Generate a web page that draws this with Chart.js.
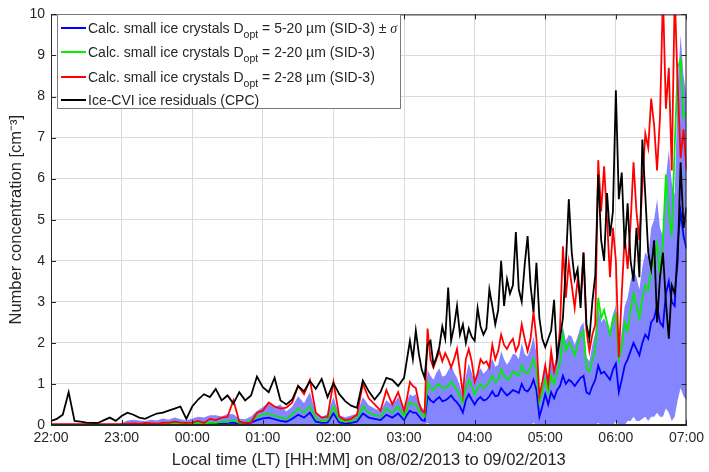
<!DOCTYPE html>
<html>
<head>
<meta charset="utf-8">
<script src="https://cdn.jsdelivr.net/npm/chart.js@4.4.1/dist/chart.umd.min.js"></script>
<style>
  html, body { margin: 0; padding: 0; background: #fff; }
  #wrap { position: relative; width: 709px; height: 472px; }
  #legend { position: absolute; left: 57px; top: 14px; width: 342px; height: 93px; background: #fff;
            border: 1px solid #7a7a7a; font-family: 'Liberation Sans', Arial, sans-serif; font-size: 14px; color: #262626; }
  .row { position: absolute; left: 0; height: 20px; line-height: 20px; white-space: nowrap; }
  .swatch { position: absolute; left: 3px; top: 9px; width: 25px; height: 2px; }
  .txt { position: absolute; left: 30px; top: 0; }
  sub { font-size: 10.5px; vertical-align: -5px; line-height: 0; }
  .sig { font-family: 'Liberation Serif', serif; font-style: italic; }
</style>
</head>
<body>
<div id="wrap">
  <canvas id="chart" width="709" height="472"></canvas>
  <div id="legend">
    <div class="row" style="top:3px"><i class="swatch" style="background:#0000ff"></i><span class="txt">Calc. small ice crystals D<sub>opt</sub> = 5-20 µm (SID-3) ± <span class="sig">σ</span></span></div>
    <div class="row" style="top:27px"><i class="swatch" style="background:#00ee00"></i><span class="txt">Calc. small ice crystals D<sub>opt</sub> = 2-20 µm (SID-3)</span></div>
    <div class="row" style="top:52px"><i class="swatch" style="background:#ff0000"></i><span class="txt">Calc. small ice crystals D<sub>opt</sub> = 2-28 µm (SID-3)</span></div>
    <div class="row" style="top:75px"><i class="swatch" style="background:#000000"></i><span class="txt">Ice-CVI ice residuals (CPC)</span></div>
  </div>
</div>
<script>
// minutes after 22:00: every 5 min up to 02:55, then every 2.5 min up to 07:00
const times = [];
for (let t = 0; t < 300; t += 5) times.push(t);
for (let t = 300; t <= 540; t += 2.5) times.push(t);

// Ice-CVI ice residuals (CPC), cm-3
const cpc = [
  0.10, 0.15, 0.25, 0.80, 0.10, 0.08, 0.06, 0.05, 0.05, 0.12, 0.18, 0.10,
  0.22, 0.30, 0.25, 0.18, 0.15, 0.22, 0.28, 0.30, 0.35, 0.40, 0.45, 0.15,
  0.45, 0.62, 0.75, 0.68, 0.88, 0.60, 0.72, 0.52, 0.80, 0.60, 0.72, 1.18,
  0.92, 0.80, 1.15, 0.60, 0.50, 0.62, 0.95, 0.82, 1.07, 0.88, 1.12, 0.68,
  1.02, 0.75, 0.58, 0.47, 0.42, 1.08, 0.82, 0.62, 0.80, 1.15, 1.10, 0.95,
  // 03:00 on
  1.15, 1.60, 2.05, 1.60, 2.30, 1.75, 1.35, 1.15, 1.95, 2.05, 1.45, 1.65,
  1.90, 2.40, 2.10, 3.35, 2.05, 2.40, 2.90, 2.20, 2.45, 2.00, 2.35, 2.15,
  2.05, 2.85, 2.40, 2.20, 2.35, 3.30, 2.90, 2.45, 2.80, 4.00, 2.90, 3.55,
  3.20, 3.40, 4.70, 3.30, 3.00, 3.90, 4.60, 3.40, 2.75, 3.95, 2.60, 2.10,
  1.90, 2.10, 2.30, 3.05, 1.65, 2.10, 2.60, 3.90, 5.50, 4.20, 3.55, 3.80,
  2.85, 4.20, 2.45, 2.10, 3.00, 3.65, 6.10, 4.50, 4.00, 5.65, 4.60, 5.20,
  8.15, 5.50, 6.15, 4.30, 5.40, 4.00, 3.50, 4.80, 3.60, 6.95, 5.60, 4.20,
  3.80, 4.50, 2.50, 3.60, 4.20, 3.00, 2.10, 3.40, 3.20, 4.00, 6.40, 4.80,
  5.30
];

// SID-3, Dopt = 2-28 um
const sid228 = [
  0.02, 0.02, 0.02, 0.02, 0.02, 0.02, 0.02, 0.02, 0.02, 0.02, 0.02, 0.02,
  0.02, 0.03, 0.04, 0.03, 0.05, 0.04, 0.03, 0.06, 0.05, 0.08, 0.06, 0.05,
  0.06, 0.10, 0.05, 0.15, 0.12, 0.18, 0.20, 0.60, 0.08, 0.05, 0.06, 0.30,
  0.35, 0.55, 0.45, 0.40, 0.42, 0.55, 0.95, 0.75, 1.10, 0.30, 0.18, 0.20,
  1.05, 0.20, 0.12, 0.15, 0.25, 1.00, 0.65, 0.50, 0.35, 0.85, 0.50, 0.80,
  // 03:00 on
  0.35, 0.65, 1.05, 0.95, 0.90, 0.55, 0.35, 0.30, 2.35, 1.60, 1.40, 1.60,
  1.80, 1.55, 1.75, 1.60, 1.40, 1.60, 1.85, 1.30, 0.75, 1.60, 1.85, 1.55,
  1.05, 1.25, 1.60, 1.50, 1.55, 1.40, 1.95, 1.60, 1.80, 2.20, 1.95, 1.85,
  2.00, 2.10, 1.80, 1.95, 2.45, 2.10, 1.80, 2.10, 2.75, 2.10, 0.70, 1.05,
  1.45, 1.00, 1.80, 1.30, 1.60, 2.35, 4.35, 3.10, 3.95, 3.40, 2.85, 3.55,
  3.05, 4.20, 2.30, 1.80, 2.20, 2.45, 6.45, 5.20, 6.30, 5.00, 3.60, 4.80,
  4.00, 1.65, 3.20, 4.60, 3.80, 4.90, 6.40, 5.20, 4.50, 5.80, 7.10, 6.75,
  7.95, 7.30, 6.20, 7.50, 10.5, 7.70, 8.70, 6.20, 10.5, 8.30, 6.50, 7.20,
  6.20
];

// SID-3, Dopt = 2-20 um
const sid220 = [
  0.01, 0.01, 0.01, 0.01, 0.01, 0.01, 0.01, 0.01, 0.01, 0.01, 0.01, 0.01,
  0.01, 0.01, 0.02, 0.01, 0.02, 0.02, 0.01, 0.03, 0.02, 0.04, 0.03, 0.02,
  0.03, 0.04, 0.03, 0.06, 0.05, 0.08, 0.07, 0.12, 0.05, 0.06, 0.10, 0.20,
  0.25, 0.28, 0.22, 0.18, 0.15, 0.25, 0.40, 0.30, 0.45, 0.15, 0.10, 0.12,
  0.45, 0.12, 0.08, 0.10, 0.15, 0.45, 0.30, 0.25, 0.20, 0.40, 0.30, 0.45,
  // 03:00 on
  0.20, 0.40, 0.55, 0.50, 0.50, 0.35, 0.25, 0.20, 1.05, 0.90, 0.85, 0.95,
  1.00, 0.90, 0.90, 0.95, 1.05, 0.95, 0.85, 0.70, 0.55, 0.90, 1.10, 0.95,
  0.75, 0.90, 1.00, 0.90, 0.95, 1.05, 1.20, 1.05, 1.10, 1.35, 1.20, 1.10,
  1.15, 1.30, 1.25, 1.20, 1.45, 1.30, 1.25, 1.40, 1.60, 1.35, 0.55, 0.80,
  1.10, 0.80, 1.20, 1.00, 1.30, 1.50, 2.20, 1.80, 2.00, 1.90, 1.70, 1.95,
  2.20, 2.30, 1.40, 1.30, 1.60, 1.80, 3.10, 2.60, 2.80, 2.50, 2.20, 2.60,
  2.70, 1.60, 1.90, 2.50, 2.30, 2.80, 3.20, 2.90, 2.60, 3.10, 3.40, 3.30,
  3.80, 4.00, 4.40, 3.60, 4.50, 6.10, 5.20, 4.60, 6.80, 8.70, 8.90, 7.50,
  7.60
];

// SID-3, Dopt = 5-20 um, and its standard deviation
const sid520 = [
  0.00, 0.00, 0.00, 0.00, 0.00, 0.00, 0.00, 0.00, 0.00, 0.00, 0.00, 0.00,
  0.00, 0.01, 0.01, 0.01, 0.01, 0.01, 0.01, 0.02, 0.01, 0.02, 0.02, 0.01,
  0.02, 0.02, 0.03, 0.02, 0.04, 0.03, 0.05, 0.06, 0.03, 0.04, 0.06, 0.12,
  0.16, 0.18, 0.14, 0.10, 0.08, 0.15, 0.25, 0.18, 0.30, 0.08, 0.05, 0.06,
  0.28, 0.06, 0.04, 0.05, 0.08, 0.28, 0.18, 0.15, 0.12, 0.25, 0.18, 0.28,
  // 03:00 on
  0.12, 0.25, 0.35, 0.30, 0.30, 0.22, 0.12, 0.10, 0.70, 0.60, 0.55, 0.62,
  0.68, 0.58, 0.60, 0.65, 0.72, 0.62, 0.55, 0.45, 0.30, 0.60, 0.75, 0.62,
  0.50, 0.62, 0.68, 0.60, 0.62, 0.70, 0.82, 0.70, 0.72, 0.90, 0.80, 0.72,
  0.78, 0.85, 0.82, 0.78, 1.00, 0.85, 0.82, 0.92, 1.10, 0.85, 0.20, 0.45,
  0.75, 0.50, 0.80, 0.65, 0.85, 0.95, 1.20, 1.00, 1.10, 1.05, 0.95, 1.05,
  1.15, 1.20, 0.80, 0.75, 0.95, 1.10, 1.45, 1.25, 1.30, 1.20, 1.10, 1.35,
  1.50, 0.80, 1.10, 1.45, 1.60, 1.80, 2.00, 1.85, 1.70, 2.00, 2.20, 2.10,
  2.50, 2.60, 2.90, 2.50, 2.40, 3.20, 3.50, 3.00, 2.90, 4.40, 5.20, 4.60,
  4.30
];
const sid520sd = [
  0.00, 0.00, 0.00, 0.00, 0.00, 0.00, 0.00, 0.00, 0.00, 0.00, 0.00, 0.00,
  0.05, 0.10, 0.12, 0.10, 0.08, 0.12, 0.10, 0.14, 0.12, 0.16, 0.12, 0.10,
  0.14, 0.18, 0.15, 0.22, 0.20, 0.18, 0.22, 0.20, 0.12, 0.10, 0.15, 0.22,
  0.28, 0.35, 0.30, 0.40, 0.25, 0.30, 0.45, 0.35, 0.50, 0.20, 0.15, 0.20,
  0.40, 0.18, 0.15, 0.18, 0.20, 0.40, 0.30, 0.25, 0.22, 0.35, 0.30, 0.40,
  // 03:00 on
  0.25, 0.35, 0.40, 0.40, 0.45, 0.35, 0.30, 0.28, 0.65, 0.60, 0.55, 0.65,
  0.70, 0.60, 0.60, 0.68, 0.75, 0.65, 0.60, 0.50, 0.40, 0.60, 0.75, 0.65,
  0.55, 0.65, 0.70, 0.65, 0.70, 0.75, 0.80, 0.72, 0.75, 0.90, 0.80, 0.75,
  0.80, 0.88, 0.90, 0.82, 1.00, 0.88, 0.85, 0.95, 1.05, 0.90, 0.40, 0.55,
  0.75, 0.60, 0.85, 0.75, 0.95, 1.05, 1.20, 1.05, 1.10, 1.10, 1.00, 1.10,
  1.25, 1.30, 0.85, 0.80, 1.00, 1.15, 1.40, 1.25, 1.30, 1.25, 1.15, 1.35,
  1.40, 0.90, 1.20, 1.45, 1.50, 1.70, 1.80, 1.75, 1.60, 1.85, 2.00, 2.00,
  2.30, 2.40, 2.60, 2.30, 2.20, 2.80, 3.20, 2.90, 2.70, 3.80, 4.30, 3.90,
  3.70
];

const xTicks = ['22:00', '23:00', '00:00', '01:00', '02:00', '03:00', '04:00', '05:00', '06:00', '07:00'];

const pts = arr => arr.map((v, i) => ({x: times[i], y: v}));
const upper = sid520.map((v, i) => v + sid520sd[i]);
const lower = sid520.map((v, i) => Math.max(0, v - sid520sd[i]));

const fontFam = "'Liberation Sans', Arial, sans-serif";
const txtColor = '#262626';

// box around the axes with little inward ticks, like the original
const framePlugin = {
    id: 'frame',
    afterDatasetsDraw(chart) {
        const {ctx, chartArea: a, scales} = chart;
        ctx.save();
        ctx.strokeStyle = txtColor;
        ctx.lineWidth = 1;
        ctx.strokeRect(a.left + 0.5, a.top + 0.5, a.right - a.left - 1, a.bottom - a.top - 1);
        ctx.beginPath();
        scales.x.ticks.forEach(t => {
            const x = Math.round(scales.x.getPixelForValue(t.value)) + 0.5;
            ctx.moveTo(x, a.bottom); ctx.lineTo(x, a.bottom - 5);
            ctx.moveTo(x, a.top); ctx.lineTo(x, a.top + 5);
        });
        scales.y.ticks.forEach(t => {
            const y = Math.round(scales.y.getPixelForValue(t.value)) + 0.5;
            ctx.moveTo(a.left, y); ctx.lineTo(a.left + 5, y);
            ctx.moveTo(a.right, y); ctx.lineTo(a.right - 5, y);
        });
        ctx.stroke();
        ctx.restore();
    }
};

new Chart(document.getElementById('chart').getContext('2d'), {
    type: 'line',
    data: {
        datasets: [
            {label: 'Ice-CVI ice residuals (CPC)', data: pts(cpc), borderColor: '#000000', borderWidth: 1.8},
            {label: 'Dopt = 2-28', data: pts(sid228), borderColor: '#ff0000', borderWidth: 1.8},
            {label: 'Dopt = 2-20', data: pts(sid220), borderColor: '#00ee00', borderWidth: 1.8},
            {label: 'Dopt = 5-20', data: pts(sid520), borderColor: '#0000ff', borderWidth: 1.8},
            {label: '+sigma', data: pts(upper), borderWidth: 0, borderColor: 'rgba(0,0,0,0)',
             backgroundColor: '#8585ff', fill: '+1'},
            {label: '-sigma', data: pts(lower), borderWidth: 0, borderColor: 'rgba(0,0,0,0)'}
        ]
    },
    options: {
        responsive: false,
        animation: false,
        elements: {point: {radius: 0}, line: {tension: 0}},
        plugins: {legend: {display: false}, tooltip: {enabled: false}},
        layout: {padding: {top: 7, right: 19, left: 0, bottom: 0}},
        scales: {
            x: {
                type: 'linear', min: 0, max: 540,
                afterFit: s => { s.height = 47; },
                afterBuildTicks: s => { s.ticks = xTicks.map((l, i) => ({value: i * 60})); },
                ticks: {maxRotation: 0, padding: 5, color: txtColor,
                        font: {family: fontFam, size: 14},
                        callback: (v, i) => xTicks[i]},
                grid: {color: '#dadada', drawTicks: false},
                border: {color: txtColor},
                title: {display: true, text: 'Local time (LT) [HH:MM] on 08/02/2013 to 09/02/2013',
                        color: txtColor, font: {family: fontFam, size: 16.5}, padding: {top: 0, bottom: 2}}
            },
            y: {
                min: 0, max: 10,
                afterFit: s => { s.width = 51; },
                ticks: {stepSize: 1, padding: 6, color: txtColor, font: {family: fontFam, size: 14}},
                grid: {color: '#dadada', drawTicks: false},
                border: {color: txtColor},
                title: {display: true, text: 'Number concentration [cm⁻³]',
                        color: txtColor, font: {family: fontFam, size: 16.5}, padding: {top: 7, bottom: 0}}
            }
        }
    },
    plugins: [framePlugin]
});
</script>
</body>
</html>
